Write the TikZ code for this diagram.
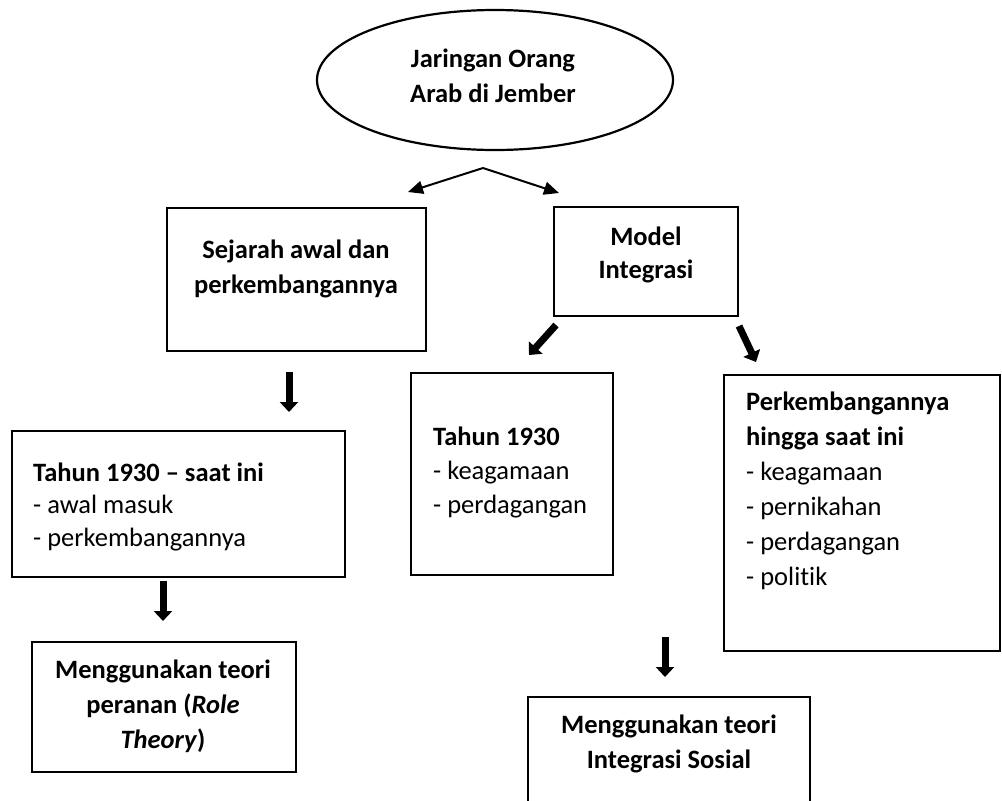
\documentclass[tikz,border=0pt]{standalone}
\usepackage{fontspec}
\setmainfont{Carlito}[Ligatures={TeX,NoCommon}]
\usetikzlibrary{arrows.meta,shapes.geometric}
\tikzset{
  box/.style={draw, line width=2.2pt, rectangle, inner sep=0pt},
  oval/.style={draw, line width=2.2pt, ellipse, inner sep=0pt},
  thinarrow/.style={line width=2pt, -{Triangle[length=15pt,width=13pt]}},
  blockarrow/.style={line width=7pt, -{Triangle[length=10pt,width=18pt]}},
  txt/.style={inner sep=0pt, anchor=base},
  txtl/.style={inner sep=0pt, anchor=base west},
}
\newcommand\mylines[3]{{\fontsize{26.5}{#1}\selectfont\begin{tabular}[t]{@{}#2@{}}#3\end{tabular}}}
\begin{document}
\begin{tikzpicture}[x=1pt,y=-1pt]
\clip (0,0) rectangle (1002,801);
\fill[white] (0,0) rectangle (1002,801);

% shapes
\node[oval, minimum width=356pt, minimum height=140pt] (jar) at (495,80) {};
\node[box, minimum width=259pt, minimum height=143pt] (sej) at (296.5,279.5) {};
\node[box, minimum width=184pt, minimum height=109pt] (model) at (646,261.5) {};
\node[box, minimum width=333pt, minimum height=146pt] (tahunL) at (178.5,504) {};
\node[box, minimum width=202pt, minimum height=202pt] (tahunM) at (512,474) {};
\node[box, minimum width=276pt, minimum height=276pt] (perk) at (862,513) {};
\node[box, minimum width=264pt, minimum height=130pt] (role) at (164,707) {};
\node[box, minimum width=282pt, minimum height=133pt] (integ) at (669,763.5) {};

% texts
\node[txt] (jarT) at (493,67) {\mylines{35}{c}{\bfseries Jaringan Orang\\\bfseries Arab di Jember}};
\node[txt] (sejT) at (296,258) {\mylines{35}{c}{\bfseries Sejarah awal dan\\\bfseries perkembangannya}};
\node[txt] (modelT) at (646,245) {\mylines{33}{c}{\bfseries Model\\\bfseries Integrasi}};
\node[txtl] (tahunLT) at (33,481) {\mylines{32.5}{l}{\bfseries Tahun 1930 – saat ini\\- awal masuk\\- perkembangannya}};
\node[txtl] (tahunMT) at (433,445) {\mylines{34}{l}{\bfseries Tahun 1930\\- keagamaan\\- perdagangan}};
\node[txtl] (perkT) at (746,410) {\mylines{35}{l}{\bfseries Perkembangannya\\\bfseries hingga saat ini\\- keagamaan\\- pernikahan\\- perdagangan\\- politik}};
\node[txt] (roleT) at (163,678) {\mylines{35}{c}{\bfseries Menggunakan teori\\\bfseries peranan (\textit{Role}\\\bfseries\textit{Theory})}};
\node[txt] (integT) at (669,733) {\mylines{35}{c}{\bfseries Menggunakan teori\\\bfseries Integrasi Sosial}};

% connectors
\coordinate (fork) at (483,168);
\coordinate (forkL) at (408,192);
\coordinate (forkR) at (559,193);
\draw[thinarrow] (fork) -- (forkL);
\draw[thinarrow] (fork) -- (forkR);

\coordinate (a1s) at (289,372);
\coordinate (a1e) at (289,412);
\draw[blockarrow] (a1s) -- (a1e);

\coordinate (a2s) at (163,581);
\coordinate (a2e) at (163,621);
\draw[blockarrow] (a2s) -- (a2e);

\coordinate (a3s) at (556,325);
\coordinate (a3e) at (529,355);
\draw[blockarrow] (a3s) -- (a3e);

\coordinate (a4s) at (739,326);
\coordinate (a4e) at (756,362);
\draw[blockarrow] (a4s) -- (a4e);

\coordinate (a5s) at (665,637);
\coordinate (a5e) at (665,677);
\draw[blockarrow] (a5s) -- (a5e);
\end{tikzpicture}
\end{document}
